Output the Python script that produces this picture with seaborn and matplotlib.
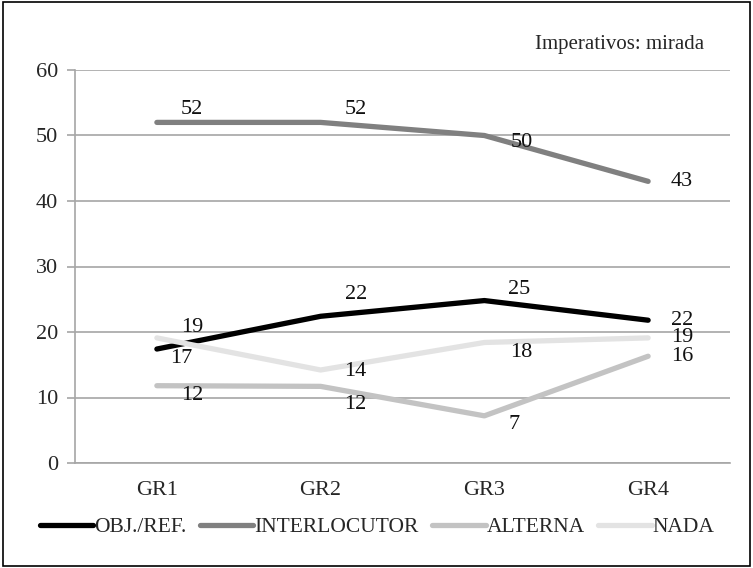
import matplotlib
matplotlib.use("Agg")
import matplotlib.pyplot as plt
import matplotlib.patches as mpatches
import seaborn as sns
import pandas as pd

# Data: share of gaze behaviour per group (imperatives)
groups = ["GR1", "GR2", "GR3", "GR4"]
series_names = ["OBJ./REF.", "INTERLOCUTOR", "ALTERNA", "NADA"]
obj_ref = [17.4, 22.4, 24.8, 21.8]
interlocutor = [52.0, 52.0, 50.0, 43.0]
alterna = [11.8, 11.7, 7.2, 16.3]
nada = [19.1, 14.2, 18.4, 19.1]
values = [obj_ref, interlocutor, alterna, nada]

colors = {"OBJ./REF.": "#000000", "INTERLOCUTOR": "#808080",
          "ALTERNA": "#c3c3c3", "NADA": "#e3e3e3"}

# label offsets in pixels (dx, dy) relative to each point, per series
label_offsets = {
    "OBJ./REF.": [(24, -9), (35, 22), (35, 11), (34, 0)],
    "INTERLOCUTOR": [(35, 13), (35, 13), (37, -7), (34, 0)],
    "ALTERNA": [(35, -10), (35, -18), (30, -9), (34, 0)],
    "NADA": [(35, 10), (35, -2), (37, -10), (34, 0)],
}

df = pd.DataFrame({
    "grupo": [g for _ in series_names for g in groups],
    "x": [i for _ in series_names for i in range(len(groups))],
    "serie": [s for s in series_names for _ in groups],
    "valor": [v for vals in values for v in vals],
})

sns.set_style("white")
plt.rcParams["font.family"] = ["Liberation Serif", "DejaVu Serif"]

fig = plt.figure(figsize=(7.53, 5.68), dpi=100)
ax = fig.add_axes([75 / 753, 1 - 463 / 568, 655 / 753, 393 / 568])

sns.lineplot(data=df, x="x", y="valor", hue="serie", hue_order=series_names,
             palette=colors, linewidth=3.8, ax=ax, legend=False,
             solid_capstyle="round", zorder=3)

for name, vals in zip(series_names, values):
    for i, v in enumerate(vals):
        dx, dy = label_offsets[name][i]
        ax.annotate(f"{v:.0f}", (i, v), xytext=(dx, dy), textcoords="offset pixels",
                    ha="center", va="center", fontsize=16, color="#111111", zorder=5)

grid_c = "#a6a6a6"
ax.set_xlim(-0.5, 3.5)
ax.set_ylim(0, 60)
ax.set_yticks(range(0, 61, 10))
ax.yaxis.grid(True, color=grid_c, linewidth=1.2)
ax.set_axisbelow(True)
for side in ["top", "right"]:
    ax.spines[side].set_visible(False)
for side in ["left", "bottom"]:
    ax.spines[side].set_color(grid_c)
    ax.spines[side].set_linewidth(1.2)

ax.set_xticks(range(len(groups)))
ax.set_xticklabels(groups)
ax.set_xticks([-0.5, 0.5, 1.5, 2.5, 3.5], minor=True)
ax.tick_params(axis="x", which="major", length=0, pad=13, labelsize=16)
ax.tick_params(axis="x", which="minor", length=7, width=1.2, color=grid_c, direction="out")
ax.tick_params(axis="y", length=6, width=1.2, color=grid_c, direction="out", labelsize=16, pad=6, left=True)
ax.set_xlabel("")
ax.set_ylabel("")

fig.text(620 / 753, 1 - 45 / 568, "Imperativos: mirada", ha="center", va="center", fontsize=15)

handles = [plt.Line2D([], [], color=colors[s], linewidth=3.8, solid_capstyle="round") for s in series_names]
fig.legend(handles, series_names, loc="center", bbox_to_anchor=(377 / 753, 1 - 527 / 568),
           ncol=4, frameon=False, fontsize=15.5, handlelength=2.5, handletextpad=0.05,
           columnspacing=0.6)

fig.patches.append(mpatches.Rectangle((0.004, 0.004), 0.992, 0.992, transform=fig.transFigure,
                                      fill=False, edgecolor="black", linewidth=1.2))

fig.savefig("out.png", dpi=100)
